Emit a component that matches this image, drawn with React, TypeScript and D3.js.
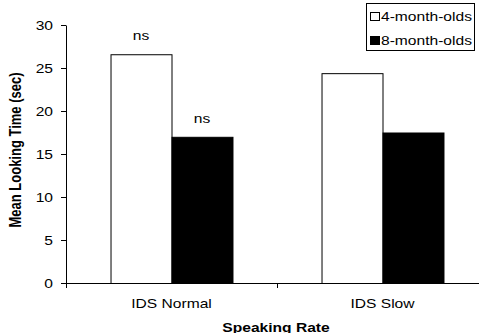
import React, { useRef, useEffect } from 'react'
import * as d3 from 'd3'

const categories = ['IDS Normal', 'IDS Slow']
const series = ['4-month-olds', '8-month-olds']
const fourMonth = [26.6, 24.4]
const eightMonth = [17.0, 17.5]
const annotations = ['ns', 'ns'] // shown above the IDS Normal bars
const yTicks = [0, 5, 10, 15, 20, 25, 30]
const xTitle = 'Speaking Rate'
const yTitle = 'Mean Looking Time (sec)'

const W = 479
const H = 333
const FONT = "Arial, 'Liberation Sans', sans-serif"
const SX = 1.2 // the source picture is a little wider than tall

export default function App() {
  const ref = useRef<SVGSVGElement | null>(null)

  useEffect(() => {
    const svg = d3.select(ref.current)
    svg.selectAll('*').remove()

    const data = categories.map((c, i) => ({ cat: c, values: [fourMonth[i], eightMonth[i]] }))

    const x0 = d3.scaleBand().domain(categories).range([66, 488])
    const x1 = d3.scaleBand().domain(series).range([0, x0.bandwidth()]).paddingOuter(0.73)
    const y = d3.scaleLinear().domain([0, 30]).range([283, 25])
    const fills = ['#ffffff', '#000000']

    const txt = (g: any, s: string, x: number, yy: number, anchor: string, bold = false) =>
      g.append('text')
        .attr('transform', `translate(${x},${yy}) scale(${SX},1)`)
        .attr('text-anchor', anchor)
        .attr('font-family', FONT)
        .attr('font-size', 13)
        .attr('font-weight', bold ? 'bold' : 'normal')
        .attr('fill', '#000')
        .text(s)

    // bars
    const groups = svg.selectAll('g.grp').data(data).enter().append('g')
      .attr('class', 'grp')
      .attr('transform', d => `translate(${x0(d.cat)},0)`)
    groups.selectAll('rect')
      .data(d => d.values.map((v, j) => ({ s: series[j], v, j })))
      .enter().append('rect')
      .attr('x', d => (x1(d.s) as number) + 0.5)
      .attr('y', d => y(d.v) + 0.5)
      .attr('width', x1.bandwidth())
      .attr('height', d => y(0) - y(d.v))
      .attr('fill', d => fills[d.j])
      .attr('stroke', '#000')
      .attr('stroke-width', 1)

    // ns labels
    annotations.forEach((a, j) => {
      const v = data[0].values[j]
      const cx = (x0(categories[0]) as number) + (x1(series[j]) as number) + x1.bandwidth() / 2
      txt(svg, a, cx, y(v) - 14, 'middle')
    })

    // y axis
    const yAxisG = svg.append('g')
      .attr('transform', 'translate(66,0)')
      .call(d3.axisLeft(y).tickValues(yTicks).tickSize(5).tickSizeOuter(0))
    yAxisG.selectAll('path, line').attr('stroke', '#000')
    yAxisG.selectAll('text')
      .attr('x', 0)
      .attr('transform', `translate(-13,0) scale(${SX},1)`)
      .attr('font-family', FONT)
      .attr('font-size', 13)
      .attr('fill', '#000')

    // x axis: line with ticks between categories
    svg.append('line')
      .attr('x1', 66).attr('x2', 488)
      .attr('y1', y(0) + 0.5).attr('y2', y(0) + 0.5)
      .attr('stroke', '#000')
    const bounds = [...categories.map(c => x0(c) as number), 488]
    svg.selectAll('line.xt').data(bounds).enter().append('line')
      .attr('class', 'xt')
      .attr('x1', d => d + 0.5).attr('x2', d => d + 0.5)
      .attr('y1', y(0) + 0.5).attr('y2', y(0) + 5)
      .attr('stroke', '#000')
    categories.forEach(c => {
      txt(svg, c, (x0(c) as number) + x0.bandwidth() / 2, 308, 'middle')
    })

    // axis titles
    txt(svg, xTitle, 276, 331.5, 'middle', true)
    svg.append('text')
      .attr('transform', `translate(21,150) scale(${SX},1) rotate(-90)`)
      .attr('text-anchor', 'middle')
      .attr('font-family', FONT)
      .attr('font-size', 13)
      .attr('font-weight', 'bold')
      .attr('fill', '#000')
      .text(yTitle)

    // legend
    const lg = svg.append('g')
    lg.append('rect')
      .attr('x', 366.5).attr('y', 3.5)
      .attr('width', 108).attr('height', 47)
      .attr('fill', '#fff').attr('stroke', '#000')
    series.forEach((s, j) => {
      const base = 21 + j * 24
      lg.append('rect')
        .attr('x', 370.5).attr('y', base - 8.5)
        .attr('width', 9).attr('height', 8)
        .attr('fill', fills[j]).attr('stroke', '#000')
      txt(lg, s, 381, base, 'start')
    })
  }, [])

  return (
    <div style={{ position: 'absolute', left: 0, top: 0 }}>
      <svg ref={ref} width={W} height={H} style={{ display: 'block', background: '#fff' }} />
    </div>
  )
}
